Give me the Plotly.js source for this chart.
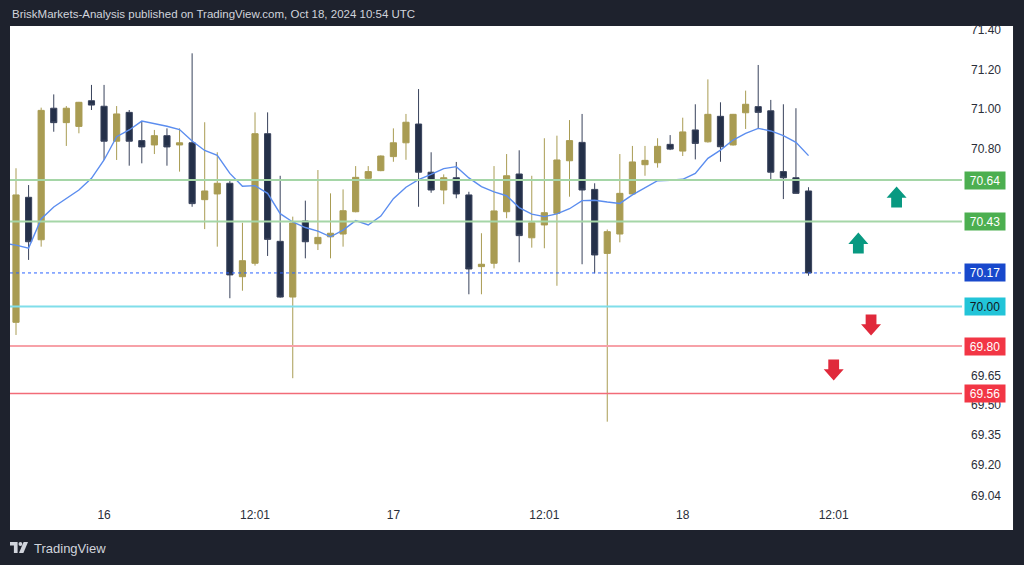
<!DOCTYPE html>
<html><head><meta charset="utf-8">
<script src="https://cdn.plot.ly/plotly-3.0.1.min.js"></script>
<style>html,body{margin:0;padding:0;background:#1e222d;overflow:hidden}#chart{width:1024px;height:565px}</style>
</head><body><div id="chart"></div>
<script>
// Hourly candles (WTI), Oct 15 evening -> Oct 18 morning
const openP  = [69.92,70.553,70.338,71.004,70.931,70.912,71.042,71.014,70.837,70.983,70.840,70.818,70.865,70.818,70.829,70.541,70.570,70.624,70.151,70.219,70.875,70.330,70.048,70.433,70.318,70.353,70.367,70.480,70.649,70.688,70.759,70.829,70.924,70.680,70.590,70.652,70.565,70.202,70.219,70.480,70.671,70.348,70.413,70.472,70.738,70.831,70.593,70.269,70.367,70.570,70.718,70.728,70.821,70.787,70.894,70.834,70.963,70.818,70.981,71.012,70.991,70.683,70.652,70.585];
const highP  = [70.70,70.615,71.007,71.074,71.015,71.036,71.122,71.122,71.015,70.995,70.936,70.894,70.902,70.902,71.282,70.933,70.781,70.635,70.424,70.983,70.983,70.662,70.455,70.536,70.691,70.573,70.593,70.711,70.711,70.765,70.902,70.975,71.101,70.781,70.669,70.732,70.581,70.371,70.711,70.772,70.791,70.662,70.852,70.865,70.944,70.975,70.624,70.39,70.772,70.813,70.813,70.852,70.868,70.956,71.024,71.150,71.034,70.975,71.093,71.223,71.046,71.024,71.004,70.604];
const lowP   = [69.856,70.236,70.303,70.885,70.813,70.877,70.995,70.742,70.742,70.713,70.725,70.772,70.713,70.683,70.505,70.392,70.303,70.042,70.080,70.207,70.256,70.045,69.637,70.244,70.286,70.244,70.303,70.477,70.645,70.685,70.733,70.743,70.505,70.576,70.518,70.548,70.062,70.062,70.193,70.447,70.224,70.298,70.295,70.105,70.556,70.214,70.168,69.417,70.325,70.568,70.662,70.703,70.792,70.762,70.745,70.830,70.733,70.815,70.899,70.902,70.644,70.544,70.572,70.156];
const closeP = [70.565,70.328,70.993,70.931,71.004,71.034,71.020,70.837,70.975,70.837,70.808,70.865,70.808,70.829,70.521,70.585,70.624,70.160,70.232,70.875,70.340,70.048,70.423,70.328,70.350,70.371,70.485,70.654,70.683,70.762,70.829,70.933,70.680,70.590,70.652,70.570,70.190,70.214,70.484,70.662,70.359,70.424,70.475,70.742,70.840,70.590,70.261,70.379,70.573,70.732,70.740,70.811,70.797,70.884,70.826,70.973,70.809,70.973,71.024,70.983,70.680,70.652,70.573,70.170];
// moving average (first value belongs to the candle just before the visible window)
const maValues = [70.32,70.311,70.296,70.443,70.504,70.546,70.590,70.649,70.742,70.860,70.894,70.939,70.926,70.913,70.896,70.838,70.790,70.765,70.674,70.609,70.612,70.573,70.470,70.428,70.400,70.382,70.353,70.387,70.435,70.413,70.458,70.546,70.604,70.642,70.669,70.698,70.708,70.651,70.607,70.580,70.561,70.501,70.468,70.455,70.469,70.495,70.536,70.538,70.529,70.522,70.565,70.603,70.637,70.639,70.644,70.674,70.750,70.792,70.843,70.877,70.902,70.889,70.865,70.831,70.764];

// time axis labels (candle index -> label)
const timeTickIdx  = [7, 19, 30, 42, 53, 65];
const timeTickText = ['16', '12:01', '17', '12:01', '18', '12:01'];
// price axis ticks (those hidden behind level labels are omitted)
const priceTicks = [71.40,71.20,71.00,70.80,69.65,69.50,69.35,69.20,69.04];

// horizontal levels
const levelPrices = [70.64, 70.43, 70.17, 70.00, 69.80, 69.56];
const levelLineColors = ['#a5d6a7', '#a5d6a7', '#2962ff', '#80deea', '#f7a1a8', '#f26b78'];
const levelLineWidths = [2, 2, 1, 2, 2, 1.5];
const levelLineDash = ['solid', 'solid', 'dot', 'solid', 'solid', 'solid'];
const levelBoxColors = ['#4caf50', '#4caf50', '#1848cc', '#22c4d8', '#f23645', '#f23645'];
const levelTextColors = ['#ffffff', '#ffffff', '#ffffff', '#131722', '#ffffff', '#ffffff'];

// signal arrows (candle index position, price, direction)
const arrowIdx   = [70.0, 66.96, 67.97, 65.0];
const arrowPrice = [70.555, 70.321, 69.906, 69.678];
const arrowDir   = ['up', 'up', 'down', 'down'];

const idx = openP.map((_, i) => i);
const maIdx = maValues.map((_, i) => i - 1);

const traces = [
  {
    type: 'candlestick', x: idx, open: openP, high: highP, low: lowP, close: closeP,
    increasing: {line: {color: '#a99c53', width: 1}, fillcolor: '#a99c53'},
    decreasing: {line: {color: '#39435c', width: 1}, fillcolor: '#243049'},
    whiskerwidth: 0, hoverinfo: 'skip', showlegend: false
  },
  {
    type: 'scatter', mode: 'lines', x: maIdx, y: maValues,
    line: {color: '#5b8def', width: 1.4}, hoverinfo: 'skip', showlegend: false
  }
];

const shapes = [];
const annotations = [];
// white panel behind axes
shapes.push({type: 'rect', xref: 'paper', yref: 'paper', x0: 0, x1: 1.0536, y0: -0.05, y1: 1, fillcolor: '#ffffff', line: {width: 0}, layer: 'below'});

levelPrices.forEach((p, i) => {
  shapes.push({type: 'line', xref: 'paper', yref: 'y', x0: 0, x1: 1, y0: p, y1: p,
    line: {color: levelLineColors[i], width: levelLineWidths[i], dash: levelLineDash[i]}});
  annotations.push({xref: 'paper', yref: 'y', x: 1.0021, y: p, xanchor: 'left', yanchor: 'middle',
    text: p.toFixed(2), showarrow: false, bgcolor: levelBoxColors[i], width: 38, height: 15, borderpad: 1,
    font: {family: 'Liberation Sans, Arial, sans-serif', size: 12, color: levelTextColors[i]}});
});

const upPath = 'M0,10.5 L10,-0.8 L5.4,-0.8 L5.4,-10.5 L-5.4,-10.5 L-5.4,-0.8 L-10,-0.8 Z';
const downPath = 'M0,-10.5 L10,0.8 L5.4,0.8 L5.4,10.5 L-5.4,10.5 L-5.4,0.8 L-10,0.8 Z';
arrowIdx.forEach((xv, i) => {
  shapes.push({type: 'path', xref: 'x', yref: 'y', xsizemode: 'pixel', ysizemode: 'pixel',
    xanchor: xv, yanchor: arrowPrice[i], path: arrowDir[i] === 'up' ? upPath : downPath,
    fillcolor: arrowDir[i] === 'up' ? '#089981' : '#e0293b', line: {width: 0}});
});

// TradingView logo (footer)
const logoY = -0.0875;
shapes.push({type: 'path', xref: 'paper', yref: 'paper', xsizemode: 'pixel', ysizemode: 'pixel', xanchor: 0, yanchor: logoY,
  path: 'M0,6 L7.6,6 L7.6,-5 L3.9,-5 L3.9,2.4 L0,2.4 Z', fillcolor: '#d1d4dc', line: {width: 0}});
shapes.push({type: 'path', xref: 'paper', yref: 'paper', xsizemode: 'pixel', ysizemode: 'pixel', xanchor: 0, yanchor: logoY,
  path: 'M8.5,4 Q8.5,5.9 10.4,5.9 Q12.3,5.9 12.3,4 Q12.3,2.1 10.4,2.1 Q8.5,2.1 8.5,4 Z', fillcolor: '#d1d4dc', line: {width: 0}});
shapes.push({type: 'path', xref: 'paper', yref: 'paper', xsizemode: 'pixel', ysizemode: 'pixel', xanchor: 0, yanchor: logoY,
  path: 'M9,-5 L13.4,-5 L18,6 L13.6,6 Z', fillcolor: '#d1d4dc', line: {width: 0}});

annotations.push({xref: 'paper', yref: 'paper', x: 0, y: 1.025, xanchor: 'left', yanchor: 'middle', showarrow: false,
  text: 'BriskMarkets-Analysis published on TradingView.com, Oct 18, 2024 10:54 UTC',
  font: {family: 'Liberation Sans, Arial, sans-serif', size: 11.5, color: '#d1d4dc'}});
annotations.push({xref: 'paper', yref: 'paper', x: 0.0231, y: logoY, xanchor: 'left', yanchor: 'middle', showarrow: false,
  text: 'TradingView', font: {family: 'Liberation Sans, Arial, sans-serif', size: 13, color: '#d1d4dc'}});

const layout = {
  width: 1024, height: 565,
  margin: {l: 10, r: 62, t: 26, b: 59},
  paper_bgcolor: '#1e222d', plot_bgcolor: '#ffffff',
  font: {family: 'Liberation Sans, Arial, sans-serif', size: 12, color: '#2a2e39'},
  xaxis: {type: 'linear', range: [-0.477, 75.2], showgrid: false, zeroline: false, showline: false,
    tickvals: timeTickIdx, ticktext: timeTickText, ticks: '', tickfont: {size: 12, color: '#2a2e39'},
    rangeslider: {visible: false}, fixedrange: true},
  yaxis: {side: 'right', range: [68.99, 71.4203], showgrid: false, zeroline: false, showline: false,
    tickvals: priceTicks, ticktext: priceTicks.map(v => v.toFixed(2)), ticks: '', ticklabelstandoff: 8,
    tickfont: {size: 12, color: '#2a2e39'}, fixedrange: true},
  shapes: shapes, annotations: annotations, showlegend: false, hovermode: false
};

Plotly.newPlot('chart', traces, layout, {displayModeBar: false, staticPlot: true});
</script>
</body></html>
